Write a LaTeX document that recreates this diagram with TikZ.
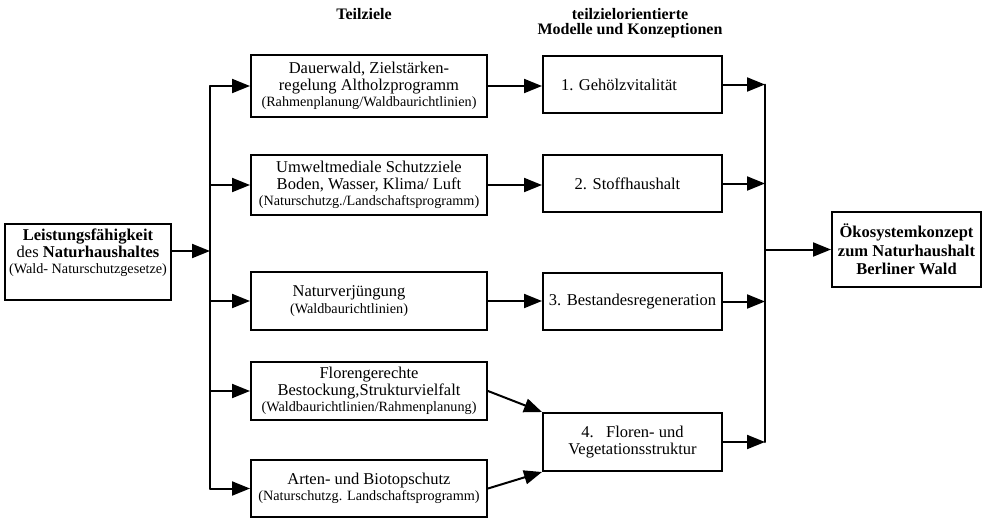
\documentclass[tikz,border=0pt]{standalone}
\usepackage{fontspec}
\setmainfont{Liberation Serif}
\usetikzlibrary{arrows.meta}
\newcommand\klein{\fontsize{14.2}{14.5}\selectfont}

\begin{document}
\begin{tikzpicture}[x=1pt, y=-1pt, line cap=round,
  box/.style={draw, line width=2pt, align=center, inner sep=0pt,
    font=\fontsize{16.5}{16.5}\selectfont},
  tbox/.style={box, minimum width=236, minimum height=59},
  mbox/.style={box, minimum width=179, minimum height=57},
  pfeil/.style={line width=2pt, -{Triangle[length=18pt,width=14pt]}},
  kopf/.style={align=center, font=\bfseries\fontsize{16}{15.5}\selectfont}]
  \useasboundingbox (0,0) rectangle (1005,523);
  % Spaltenkoepfe
  \node[kopf] (kteil) at (364,14) {Teilziele};
  \node[kopf] (kmod) at (630,23) {teilzielorientierte\\Modelle und Konzeptionen};
  % Ausgang und Ziel
  \node[box, minimum width=166, minimum height=76] (leist) at (88,262)
    {\textbf{Leistungsfähigkeit}\\des \textbf{Naturhaushaltes}\\{\klein(Wald- Naturschutzgesetze)}\\ \strut};
  \node[box, font=\bfseries\fontsize{16.5}{18.5}\selectfont, minimum width=149, minimum height=75]
    (oeko) at (906.5,249.5) {Ökosystemkonzept\\zum Naturhaushalt\\Berliner Wald};
  % Teilziele
  \node[tbox, minimum height=62] (t1) at (369,86)
    {Dauerwald, Zielstärken-\\regelung Altholzprogramm\\{\klein(Rahmenplanung/Waldbaurichtlinien)}};
  \node[tbox, minimum height=60] (t2) at (369,185)
    {Umweltmediale Schutzziele\\Boden, Wasser, Klima/ Luft\\{\klein(Naturschutzg./Landschaftsprogramm)}};
  \node[tbox, minimum height=58] (t3) at (369,301)
    {Naturverjüngung\hspace*{40pt}\\{\klein(Waldbaurichtlinien)}\hspace*{40pt}};
  \node[tbox, minimum height=58] (t4) at (369,391)
    {Florengerechte\\Bestockung,Strukturvielfalt\\{\klein(Waldbaurichtlinien/Rahmenplanung)}};
  \node[tbox, minimum height=57] (t5) at (369,488.5)
    {Arten- und Biotopschutz\\{\klein(Naturschutzg. Landschaftsprogramm)}};
  % Modelle
  \node[mbox] (m1) at (632.5,84.5) {1. Gehölzvitalität\hspace*{27pt}};
  \node[mbox] (m2) at (632.5,183.5) {2. Stoffhaushalt\hspace*{10pt}};
  \node[mbox] (m3) at (632.5,301.5) {3. Bestandesregeneration};
  \node[mbox, minimum height=58] (m4) at (632.5,442) {4.\ \ \ Floren- und\\Vegetationsstruktur};
  % Verbindungen
  \coordinate (busL) at (210,0);
  \coordinate (busR) at (765,0);
  \coordinate (lout) at ([yshift=11pt]leist.east);
  \draw[line width=2pt] (busL |- t1.west) -- (busL |- t5.west);
  \draw[pfeil] (lout) -- (lout -| busL);
  \foreach \i in {1,...,5}
    \draw[pfeil] (busL |- t\i.west) -- (t\i.west);
  \foreach \i in {1,2,3}
    \draw[pfeil] (t\i.east) -- (t\i.east -| m\i.west);
  \draw[pfeil] (t4.east) -- (m4.north west);
  \draw[pfeil] (t5.east) -- (m4.south west);
  \foreach \i in {1,...,4}
    \draw[pfeil] (m\i.east) -- (m\i.east -| busR);
  \draw[line width=2pt] (busR |- m1.east) -- (busR |- m4.east);
  \draw[pfeil] (busR |- oeko.west) -- (oeko.west);
\end{tikzpicture}
\end{document}
